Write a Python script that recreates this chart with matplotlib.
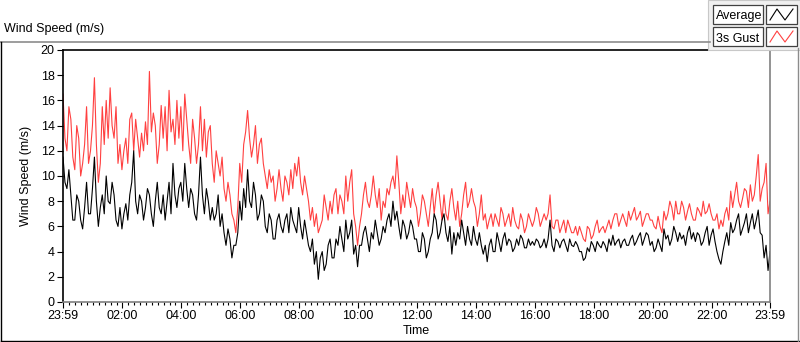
import numpy as np
import matplotlib.pyplot as plt
from matplotlib.lines import Line2D
from matplotlib.patches import Rectangle

# minutes after midnight, readings every 4 minutes from 23:59 to 23:59
minutes = np.arange(-1, 1440, 4)

# readings at the even steps (every 8 min)
gust_even = [
    16.5, 12.0, 14.5, 10.5, 13.0, 11.0, 15.5, 12.0, 17.8, 9.5,
    15.5, 16.0, 17.0, 13.0, 11.0, 10.5, 13.0, 14.5, 12.0, 13.0,
    13.4, 14.3, 18.3, 15.0, 11.0, 15.6, 15.5, 16.8, 14.5, 16.0,
    15.5, 16.5, 12.5, 14.5, 11.0, 15.5, 14.5, 13.5, 11.0, 12.0,
    10.0, 9.0, 9.5, 7.0, 5.5, 11.0, 12.5, 15.2, 11.5, 14.0,
    12.5, 11.0, 9.0, 9.5, 8.0, 10.5, 8.0, 9.5, 10.5, 11.0,
    11.5, 8.5, 9.0, 6.5, 6.0, 5.5, 6.5, 7.5, 8.0, 8.5,
    7.0, 8.0, 10.0, 9.5, 7.0, 4.5, 7.0, 9.5, 7.5, 10.0,
    7.5, 6.5, 7.5, 8.5, 10.0, 11.6, 7.0, 7.5, 8.5, 9.0,
    7.5, 7.0, 8.0, 6.0, 9.0, 8.5, 8.0, 8.5, 6.5, 9.0,
    6.5, 6.0, 8.5, 7.5, 9.0, 7.5, 7.0, 6.5, 5.8, 7.0,
    7.0, 6.0, 7.0, 6.5, 6.0, 6.5, 5.8, 6.5, 6.0, 6.5,
    6.5, 7.0, 6.5, 6.5, 8.5, 5.8, 6.5, 6.0, 5.5, 6.0,
    5.5, 5.3, 5.5, 4.8, 5.8, 5.3, 6.5, 5.8, 5.5, 6.5,
    6.5, 7.0, 6.5, 6.5, 7.2, 7.0, 6.5, 7.2, 6.5, 7.0,
    6.5, 5.8, 6.0, 7.2, 7.0, 7.5, 8.0, 7.0, 7.5, 7.2,
    7.0, 6.5, 7.2, 8.0, 7.2, 7.0, 6.5, 5.8, 6.0, 7.5,
    8.8, 8.5, 8.0, 8.2, 8.8, 9.3, 8.5, 11.7, 9.0, 11.0,
    8.0,
]
# readings in between (4 min later)
gust_odd = [
    13.0, 15.5, 11.5, 14.0, 10.0, 12.5, 11.0, 14.0, 12.5, 11.0,
    12.5, 13.0, 14.0, 15.5, 12.5, 12.0, 11.0, 15.0, 14.5, 11.5,
    12.0, 12.5, 13.5, 14.0, 12.5, 13.0, 12.0, 13.5, 12.5, 13.0,
    12.0, 14.5, 11.0, 13.0, 12.5, 12.0, 11.5, 14.0, 9.5, 11.0,
    11.5, 8.0, 8.5, 6.5, 7.5, 9.5, 13.5, 13.0, 12.5, 11.0,
    13.0, 10.0, 10.5, 10.0, 9.0, 9.0, 10.0, 8.5, 9.0, 10.0,
    9.5, 10.0, 8.0, 7.5, 7.0, 6.0, 8.5, 6.5, 7.0, 9.0,
    8.5, 7.0, 8.0, 10.5, 6.0, 6.0, 8.5, 8.0, 8.5, 8.5,
    9.0, 8.0, 9.0, 9.5, 9.0, 9.5, 8.5, 9.5, 7.5, 8.0,
    6.0, 8.5, 7.0, 7.5, 7.0, 9.5, 6.5, 7.0, 8.0, 7.5,
    8.0, 7.0, 9.5, 8.0, 8.0, 6.0, 8.5, 7.0, 6.5, 6.0,
    6.5, 7.5, 6.0, 7.0, 7.5, 6.0, 7.0, 5.5, 7.0, 6.0,
    7.5, 6.0, 7.0, 7.0, 6.0, 6.5, 5.5, 6.5, 6.5, 5.5,
    6.0, 6.0, 5.0, 6.0, 5.0, 6.0, 5.5, 6.0, 6.0, 5.8,
    7.0, 6.0, 7.0, 6.0, 6.5, 7.5, 6.8, 6.0, 7.0, 6.5,
    6.0, 6.8, 5.5, 6.5, 8.0, 6.5, 7.0, 8.0, 6.5, 7.8,
    6.5, 7.5, 6.8, 7.0, 7.8, 6.5, 7.0, 6.5, 7.0, 6.5,
    7.5, 9.5, 7.5, 9.0, 7.5, 8.0, 10.0, 8.0, 9.5, 7.0,
]

average_even = [
    11.5, 9.0, 8.5, 6.5, 8.0, 5.8, 9.5, 7.0, 11.5, 6.0,
    8.5, 10.0, 7.8, 8.5, 6.0, 5.8, 7.8, 8.5, 12.0, 7.0,
    8.0, 7.5, 8.5, 6.0, 9.5, 7.0, 6.5, 9.5, 11.0, 7.5,
    9.5, 11.0, 7.5, 8.5, 6.5, 11.5, 7.0, 8.0, 7.5, 7.0,
    6.0, 5.5, 5.8, 3.5, 4.5, 8.0, 9.0, 10.5, 7.5, 8.5,
    7.0, 8.0, 5.5, 6.5, 5.0, 7.0, 5.5, 7.0, 7.5, 6.0,
    7.5, 5.0, 5.5, 4.0, 3.0, 1.8, 4.0, 3.0, 5.0, 3.5,
    4.5, 5.0, 6.5, 5.5, 3.8, 2.8, 4.5, 6.0, 4.0, 5.0,
    5.5, 5.0, 5.5, 7.0, 8.0, 7.2, 5.0, 6.0, 5.5, 6.0,
    5.0, 4.0, 5.0, 4.0, 5.5, 6.5, 5.5, 7.0, 4.8, 3.8,
    4.5, 5.0, 5.5, 6.0, 4.5, 5.0, 5.5, 3.8, 3.2, 5.0,
    4.0, 4.8, 5.0, 4.5, 4.8, 4.3, 4.5, 5.0, 4.3, 4.5,
    4.5, 4.8, 4.5, 4.3, 6.5, 4.0, 4.8, 4.8, 4.5, 5.0,
    4.4, 4.5, 4.0, 3.5, 4.0, 4.5, 4.8, 4.3, 4.5, 5.0,
    5.3, 4.8, 4.3, 5.0, 4.5, 5.3, 4.8, 5.5, 5.0, 5.3,
    4.8, 4.3, 4.5, 5.8, 5.3, 5.0, 5.5, 5.5, 5.3, 5.5,
    5.0, 4.8, 5.3, 4.8, 6.0, 5.3, 4.8, 3.4, 4.0, 5.5,
    6.3, 5.8, 7.0, 5.8, 7.0, 6.3, 5.8, 7.3, 5.3, 4.5,
    4.0,
]
average_odd = [
    9.5, 10.5, 6.5, 8.5, 6.5, 7.5, 7.0, 9.0, 8.0, 7.5,
    7.0, 8.0, 9.5, 6.5, 7.5, 7.0, 6.5, 9.5, 8.0, 8.5,
    6.5, 9.0, 7.0, 8.0, 7.5, 8.5, 8.0, 7.0, 8.5, 9.0,
    8.0, 9.0, 9.0, 7.0, 8.5, 8.5, 9.0, 6.5, 6.5, 8.5,
    7.0, 4.5, 5.0, 4.5, 5.5, 6.5, 7.5, 8.0, 9.5, 6.5,
    8.5, 6.0, 7.0, 5.0, 6.5, 6.0, 6.5, 5.5, 6.5, 5.5,
    6.0, 6.5, 4.5, 5.0, 4.0, 3.5, 2.5, 4.5, 3.5, 5.0,
    6.0, 4.0, 5.0, 6.5, 4.5, 4.5, 5.5, 5.0, 5.5, 6.5,
    4.5, 6.0, 6.5, 6.0, 6.5, 6.0, 6.5, 5.0, 6.5, 5.0,
    4.0, 5.5, 3.5, 5.0, 7.0, 5.0, 6.5, 5.5, 6.0, 5.5,
    5.5, 6.5, 4.5, 5.0, 6.0, 4.5, 4.5, 4.5, 4.5, 4.0,
    5.5, 4.0, 5.5, 5.0, 4.0, 5.0, 5.3, 4.3, 5.0, 4.8,
    5.0, 4.3, 5.0, 5.0, 4.5, 5.0, 4.3, 5.0, 4.0, 4.5,
    4.8, 4.0, 3.3, 4.3, 4.8, 4.0, 4.5, 4.8, 4.0, 4.5,
    4.5, 5.0, 4.8, 4.5, 5.0, 4.5, 5.2, 4.5, 5.5, 4.5,
    4.0, 5.0, 4.0, 5.0, 4.5, 6.0, 4.8, 5.0, 4.5, 6.0,
    5.5, 5.5, 4.5, 5.5, 4.5, 5.8, 4.0, 3.0, 4.8, 4.5,
    5.5, 6.5, 5.3, 6.3, 5.5, 7.0, 6.5, 5.5, 3.5, 2.5,
]

gust = np.empty(len(minutes))
gust[0::2] = gust_even
gust[1::2] = gust_odd
average = np.empty(len(minutes))
average[0::2] = average_even
average[1::2] = average_odd

major_ticks = [-1, 120, 240, 360, 480, 600, 720, 840, 960, 1080, 1200, 1320, 1439]
major_labels = ["23:59", "02:00", "04:00", "06:00", "08:00", "10:00", "12:00",
                "14:00", "16:00", "18:00", "20:00", "22:00", "23:59"]
y_ticks = list(range(0, 21, 2))

plt.rcParams["font.family"] = "Liberation Sans"
W, H = 800, 342


def fx(x):
    return x / W


def fy(y):
    return 1 - y / H


fig = plt.figure(figsize=(8, 3.42), dpi=100)
ax = fig.add_axes([fx(63), fy(302), (770 - 63) / W, (302 - 50) / H])

ax.plot(minutes, gust, color="#ff4040", lw=0.8)
ax.plot(minutes, average, color="black", lw=0.8)

ax.set_xlim(-1, 1439)
ax.set_ylim(0, 20)
ax.set_xticks(major_ticks)
ax.set_xticklabels(major_labels)
ax.set_xticks(np.arange(12, 1439, 12), minor=True)
ax.set_yticks(y_ticks)
ax.tick_params(axis="both", which="major", labelsize=9, length=4, width=0.8, color="black", pad=2)
ax.tick_params(axis="x", which="minor", length=2.5, width=0.8, color="black")
ax.set_xlabel("Time", fontsize=9, labelpad=2)
ax.set_ylabel("Wind Speed (m/s)", fontsize=9, labelpad=6)

ax.spines["top"].set_color("black")
ax.spines["left"].set_color("black")
ax.spines["right"].set_color("#808080")
ax.spines["bottom"].set_color("#808080")
for s in ax.spines.values():
    s.set_linewidth(1.2)

# panel frame and caption
fig.add_artist(Line2D([fx(0), fx(710)], [fy(42), fy(42)], color="#8c8c8c", lw=1.2))
fig.add_artist(Line2D([fx(1), fx(1)], [fy(42), fy(341)], color="black", lw=1))
fig.add_artist(Line2D([fx(1), fx(799)], [fy(341), fy(341)], color="black", lw=1))
fig.add_artist(Line2D([fx(798), fx(798)], [fy(48), fy(341)], color="#8c8c8c", lw=1))
fig.text(fx(4), fy(32), "Wind Speed (m/s)", fontsize=9, va="baseline")

# legend boxes
fig.add_artist(Rectangle((fx(708), fy(50)), fx(92), 50 / H, facecolor="#f0f0f0",
                         edgecolor="#c8c8c8", lw=0.8))
for row, (name, col) in enumerate([("Average", "black"), ("3s Gust", "#ff4040")]):
    top = 5 + row * 22
    fig.add_artist(Rectangle((fx(713), fy(top + 19)), fx(50), 19 / H, facecolor="white",
                             edgecolor="#404040", lw=0.9))
    fig.text(fx(716), fy(top + 14.5), name, fontsize=9, va="baseline")
    fig.add_artist(Rectangle((fx(766), fy(top + 19)), fx(31), 19 / H, facecolor="white",
                             edgecolor="#404040", lw=0.9))
    fig.add_artist(Line2D([fx(770), fx(777), fx(785), fx(793)],
                          [fy(top + 15), fy(top + 4), fy(top + 15), fy(top + 4)],
                          color=col, lw=0.8))

fig.savefig("out.png", dpi=100, facecolor="white")
